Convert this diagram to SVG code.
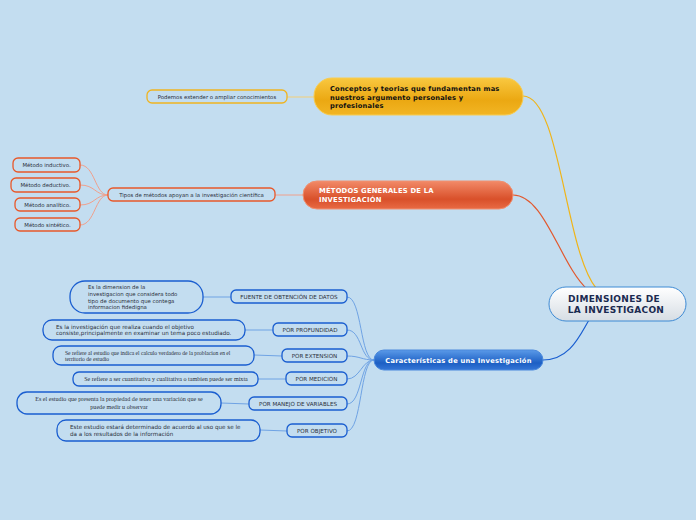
<svg xmlns="http://www.w3.org/2000/svg" width="696" height="520" viewBox="0 0 696 520">
<defs>
<linearGradient id="gY" x1="0" y1="0" x2="0" y2="1"><stop offset="0" stop-color="#f9c840"/><stop offset="0.6" stop-color="#eba812"/><stop offset="1" stop-color="#f2b524"/></linearGradient>
<linearGradient id="gR" x1="0" y1="0" x2="0" y2="1"><stop offset="0" stop-color="#f28a68"/><stop offset="0.65" stop-color="#d9502a"/><stop offset="1" stop-color="#e86a44"/></linearGradient>
<linearGradient id="gB" x1="0" y1="0" x2="0" y2="1"><stop offset="0" stop-color="#5a9ae8"/><stop offset="0.65" stop-color="#1d5fc4"/><stop offset="1" stop-color="#3576d6"/></linearGradient>
<linearGradient id="gC" x1="0" y1="0" x2="0" y2="1"><stop offset="0" stop-color="#ffffff"/><stop offset="1" stop-color="#d6dde4"/></linearGradient>
</defs>
<style>
text{font-family:"DejaVu Sans","Verdana",sans-serif;}
.sub{fill:none;stroke:#1a5ed0;stroke-width:1.3;}
.leafB{fill:none;stroke:#1a5ed0;stroke-width:1.3;}
.leafR{fill:none;stroke:#e8582a;stroke-width:1.3;}
.leafY{fill:none;stroke:#f0b420;stroke-width:1.3;}
.t{font-size:5.4px;fill:#2a2f3a;}
.t2{font-size:5.6px;fill:#2a2f3a;}
.t3{font-size:5.1px;fill:#2a2f3a;}
.ts{font-family:"Liberation Serif","Times New Roman",serif;font-size:5.6px;fill:#2a2f3a;}
.ts2{font-family:"Liberation Serif","Times New Roman",serif;font-size:6.1px;fill:#2a2f3a;}
.cb{fill:none;stroke:#6fa3e4;stroke-width:1;}
.cr{fill:none;stroke:#f0a08c;stroke-width:1;}
.cy{fill:none;stroke:#f3cf78;stroke-width:1;}
</style>
<rect width="696" height="520" fill="#c3ddf0"/>
<g id="connectors">
<path d="M523,96 C560,96 565,250 596,288" fill="none" stroke="#f0b418" stroke-width="1.2"/>
<path d="M513,195 C545,195 560,265 588,290" fill="none" stroke="#e2582e" stroke-width="1.2"/>
<path d="M543,360 C570,360 580,335 589,320" fill="none" stroke="#1a5ed0" stroke-width="1.2"/>
<path class="cy" d="M287,97 L314,97"/>
<path class="cr" d="M275,195 L303,195"/>
<path class="cr" d="M80,165 C95,165 95,195 108,195"/>
<path class="cr" d="M80,185 C95,185 95,195 108,195"/>
<path class="cr" d="M80,205 C95,205 95,195 108,195"/>
<path class="cr" d="M80,225 C95,225 95,195 108,195"/>
<path class="cb" d="M347,297 C362,297 360,360 374,360"/>
<path class="cb" d="M347,330 C362,330 360,360 374,360"/>
<path class="cb" d="M347,356 C360,356 362,360 374,360"/>
<path class="cb" d="M347,379 C360,379 362,360 374,360"/>
<path class="cb" d="M347,404 C362,404 360,360 374,360"/>
<path class="cb" d="M347,431 C362,431 360,360 374,360"/>
<path class="cb" d="M203,297 L231,297"/>
<path class="cb" d="M245,330 L273,330"/>
<path class="cb" d="M254,355 L282,356"/>
<path class="cb" d="M258,379 L286,379"/>
<path class="cb" d="M221,403 L249,404"/>
<path class="cb" d="M260,430 L287,431"/>
</g>
<g id="central">
<rect x="549" y="287" width="137" height="34" rx="17" fill="url(#gC)" stroke="#3d8ad4" stroke-width="1"/>
<text x="614" y="302" text-anchor="middle" font-size="9" font-weight="bold" letter-spacing="0.3" fill="#1a2a50">DIMENSIONES DE</text>
<text x="616" y="313" text-anchor="middle" font-size="9" font-weight="bold" letter-spacing="0.3" fill="#1a2a50">LA INVESTIGACON</text>
</g>
<g id="conceptos">
<rect x="314" y="78" width="209" height="37" rx="18" fill="url(#gY)" stroke="#f8cc50" stroke-width="1"/>
<text x="330" y="91" font-size="6.7" font-weight="bold" letter-spacing="0.2" fill="#111">Conceptos y teorias que fundamentan mas</text>
<text x="330" y="99.5" font-size="6.7" font-weight="bold" letter-spacing="0.2" fill="#111">nuestros argumento personales y</text>
<text x="330" y="108" font-size="6.7" font-weight="bold" letter-spacing="0.2" fill="#111">profesionales</text>
</g>
<g id="podemos">
<rect class="leafY" x="147" y="90" width="140" height="13" rx="5"/>
<text class="t" x="217" y="98.8" text-anchor="middle">Podemos extender o ampliar conocimientos</text>
</g>
<g id="metodos">
<rect x="303" y="181" width="210" height="28" rx="14" fill="url(#gR)" stroke="#f09070" stroke-width="1"/>
<text x="319" y="193" font-size="6.8" font-weight="bold" letter-spacing="0.2" fill="#fff">MÉTODOS GENERALES DE LA</text>
<text x="319" y="202" font-size="6.8" font-weight="bold" letter-spacing="0.2" fill="#fff">INVESTIGACIÓN</text>
</g>
<g id="tipos">
<rect class="leafR" x="108" y="188" width="167" height="13" rx="5"/>
<text class="t" x="191.5" y="196.8" text-anchor="middle">Tipos de métodos apoyan a la investigación científica</text>
</g>
<g id="inductivo">
<rect class="leafR" x="13" y="158" width="67" height="14" rx="5"/>
<text class="t" x="46.5" y="167" text-anchor="middle">Método inductivo.</text>
</g>
<g id="deductivo">
<rect class="leafR" x="11" y="178" width="69" height="14" rx="5"/>
<text class="t" x="45.5" y="187" text-anchor="middle">Método deductivo.</text>
</g>
<g id="analitico">
<rect class="leafR" x="15" y="198" width="65" height="13" rx="5"/>
<text class="t" x="47.5" y="206.6" text-anchor="middle">Método analítico.</text>
</g>
<g id="sintetico">
<rect class="leafR" x="15" y="218" width="65" height="13" rx="5"/>
<text class="t" x="47.5" y="226.6" text-anchor="middle">Método sintético.</text>
</g>
<g id="caracteristicas">
<rect x="374" y="350" width="169" height="20" rx="10" fill="url(#gB)" stroke="#4a88dc" stroke-width="1"/>
<text x="458.5" y="362.5" text-anchor="middle" font-size="6.7" font-weight="bold" letter-spacing="0.25" fill="#fff">Características de una Investigación</text>
</g>
<g id="fuente">
<rect class="sub" x="231" y="290" width="116" height="13" rx="5"/>
<text class="t2" x="289" y="298.8" text-anchor="middle">FUENTE DE OBTENCIÓN DE DATOS</text>
</g>
<g id="profundidad">
<rect class="sub" x="273" y="323" width="74" height="13" rx="5"/>
<text class="t2" x="310" y="331.8" text-anchor="middle">POR PROFUNDIDAD</text>
</g>
<g id="extension">
<rect class="sub" x="282" y="349" width="65" height="13" rx="5"/>
<text class="t2" x="314.5" y="357.8" text-anchor="middle">POR EXTENSION</text>
</g>
<g id="medicion">
<rect class="sub" x="286" y="372" width="61" height="13" rx="5"/>
<text class="t2" x="316.5" y="380.8" text-anchor="middle">POR MEDICION</text>
</g>
<g id="variables">
<rect class="sub" x="249" y="397" width="98" height="13" rx="5"/>
<text class="t2" x="298" y="405.8" text-anchor="middle">POR MANEJO DE VARIABLES</text>
</g>
<g id="objetivo">
<rect class="sub" x="287" y="424" width="60" height="13" rx="5"/>
<text class="t2" x="317" y="432.8" text-anchor="middle">POR OBJETIVO</text>
</g>
<g id="leaf-fuente">
<rect class="leafB" x="70" y="281" width="133" height="32" rx="15"/>
<text class="t" x="88" y="289">Es la dimension de la</text>
<text class="t" x="88" y="296">investigacion que considera todo</text>
<text class="t" x="88" y="302.5">tipo de documento que contega</text>
<text class="t" x="88" y="309">informacion fidedigna</text>
</g>
<g id="leaf-profundidad">
<rect class="leafB" x="43" y="320" width="202" height="20" rx="9"/>
<text class="t2" x="56" y="328.5">Es la investigación que realiza cuando el objetivo</text>
<text class="t2" x="56" y="335">consiste,principalmente en examinar un tema poco estudiado.</text>
</g>
<g id="leaf-extension">
<rect class="leafB" x="53" y="346" width="201" height="19" rx="8"/>
<text class="ts" x="65" y="354.5">Se refiere al estudio que indica el calculo verdadero de la problacion en el</text>
<text class="ts" x="65" y="360.5">territorio de estudio</text>
</g>
<g id="leaf-medicion">
<rect class="leafB" x="73" y="372" width="185" height="14" rx="6"/>
<text class="ts2" x="166" y="381" text-anchor="middle">Se refiere a ser cuantitativa y cualitativa o tambien puede ser mixta</text>
</g>
<g id="leaf-variables">
<rect class="leafB" x="17" y="392" width="204" height="22" rx="10"/>
<text class="ts2" x="119" y="401" text-anchor="middle">Es el estudio que presenta la propiedad de tener una variación que se</text>
<text class="ts2" x="119" y="409" text-anchor="middle">puede medir u observar</text>
</g>
<g id="leaf-objetivo">
<rect class="leafB" x="57" y="420" width="203" height="21" rx="9"/>
<text class="t2" x="70" y="429">Este estudio estará determinado  de acuerdo al uso que se le</text>
<text class="t2" x="70" y="436">da a los resultados  de la información</text>
</g>
</svg>
